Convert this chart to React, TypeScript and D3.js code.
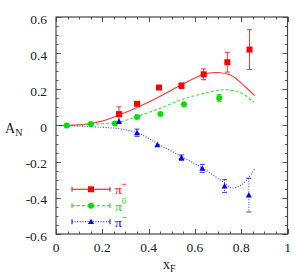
import React from "react";
import * as d3 from "d3";

const xTicks = [0, 0.2, 0.4, 0.6, 0.8, 1];
const yTicks = [-0.6, -0.4, -0.2, 0, 0.2, 0.4, 0.6];

const redX = [0.272, 0.35, 0.445, 0.542, 0.638, 0.74, 0.836];
const redY = [0.063, 0.12, 0.21, 0.22, 0.283, 0.35, 0.42];
const redErr = [0.04, 0.012, 0.012, 0.015, 0.03, 0.055, 0.11];

const greenX = [0.046, 0.151, 0.254, 0.35, 0.451, 0.553, 0.705];
const greenY = [0, 0.008, 0.011, 0.047, 0.063, 0.117, 0.152];
const greenErr = [0.005, 0.005, 0.008, 0.008, 0.008, 0.012, 0.02];

const blueX = [0.272, 0.35, 0.438, 0.542, 0.632, 0.728, 0.833];
const blueY = [0.022, -0.04, -0.107, -0.178, -0.237, -0.335, -0.385];
const blueErr = [0.01, 0.02, 0.01, 0.015, 0.022, 0.035, 0.093];

const redCurveX = [0, 0.1, 0.15, 0.2, 0.272, 0.35, 0.405, 0.45, 0.542, 0.638, 0.69, 0.757, 0.815, 0.858];
const redCurveY = [0, 0.004, 0.012, 0.025, 0.058, 0.1, 0.133, 0.162, 0.225, 0.283, 0.293, 0.276, 0.217, 0.165];
const greenCurveX = [0, 0.1, 0.2, 0.27, 0.35, 0.45, 0.542, 0.64, 0.728, 0.8, 0.855];
const greenCurveY = [0, 0.002, 0.01, 0.018, 0.05, 0.095, 0.143, 0.178, 0.198, 0.18, 0.128];
const blueCurveX = [0, 0.1, 0.2, 0.272, 0.35, 0.405, 0.438, 0.542, 0.632, 0.728, 0.757, 0.8, 0.858];
const blueCurveY = [0, -0.003, -0.01, -0.018, -0.04, -0.075, -0.1, -0.172, -0.235, -0.318, -0.345, -0.33, -0.242];

const seriesNames = ["+", "0", "−"];

const L = 56, R = 287.5, T = 17, B = 234;
const FONT = "Liberation Serif, Times New Roman, serif";

export default function App() {
  const x = d3.scaleLinear().domain([0, 1]).range([L, R]);
  const y = d3.scaleLinear().domain([-0.6, 0.6]).range([B, T]);
  const line = d3
    .line<[number, number]>()
    .x((d) => x(d[0]))
    .y((d) => y(d[1]))
    .curve(d3.curveCatmullRom.alpha(0.5));
  const zip = (a: number[], b: number[]) => a.map((v, i) => [v, b[i]] as [number, number]);

  const minorX = d3.range(0, 1.0001, 0.05);
  const minorY = d3.range(-0.6, 0.6001, 0.05);

  const series = [
    { color: "#ff0000", xs: redX, ys: redY, es: redErr, cx: redCurveX, cy: redCurveY, dash: undefined as string | undefined, marker: "square" },
    { color: "#00e000", xs: greenX, ys: greenY, es: greenErr, cx: greenCurveX, cy: greenCurveY, dash: "3,2", marker: "circle" },
    { color: "#0000ff", xs: blueX, ys: blueY, es: blueErr, cx: blueCurveX, cy: blueCurveY, dash: "1,1.6", marker: "triangle" },
  ];

  const marker = (m: string, cx: number, cy: number, color: string, key?: any) => {
    if (m === "square") return <rect key={key} x={cx - 3} y={cy - 3} width={6} height={6} fill={color} />;
    if (m === "circle") return <circle key={key} cx={cx} cy={cy} r={3} fill={color} />;
    return <path key={key} d={`M${cx},${cy - 3.2}L${cx + 3},${cy + 2.4}L${cx - 3},${cy + 2.4}Z`} fill={color} />;
  };

  const legendY = [189.3, 205.7, 221.7];
  const textStyle = { fontFamily: FONT };

  return (
    <svg width={295} height={275} style={{ display: "block", position: "absolute", left: 0, top: 0 }}>
      <rect width={295} height={275} fill="#fff" />
      {/* ticks */}
      <g stroke="#555" strokeWidth={1}>
        {minorX.map((v, i) => {
          const major = Math.abs(Math.round(v / 0.2) * 0.2 - v) < 1e-6;
          const len = major ? 5 : 2.5;
          const px = Math.round(x(v)) + 0.5;
          return (
            <g key={"tx" + i}>
              <line x1={px} x2={px} y1={B} y2={B - len} />
              <line x1={px} x2={px} y1={T} y2={T + len} />
            </g>
          );
        })}
        {minorY.map((v, i) => {
          const major = Math.abs(Math.round(v / 0.2) * 0.2 - v) < 1e-6;
          const len = major ? 5 : 2.5;
          const py = Math.round(y(v)) + 0.5;
          return (
            <g key={"ty" + i}>
              <line x1={L} x2={L + len} y1={py} y2={py} />
              <line x1={R} x2={R - len} y1={py} y2={py} />
            </g>
          );
        })}
      </g>
      <rect x={L} y={T} width={R - L} height={B - T} fill="none" stroke="#444" strokeWidth={1.2} />
      {/* tick labels */}
      <g style={textStyle} fontSize={13.5} fill="#222">
        {xTicks.map((v) => (
          <text key={"xl" + v} x={x(v)} y={252} textAnchor="middle" style={textStyle}>
            {d3.format("")(v)}
          </text>
        ))}
        {yTicks.map((v) => (
          <text key={"yl" + v} x={47} y={y(v) + 6.5} textAnchor="end" style={textStyle}>
            {v === 0 ? "0" : d3.format(".1f")(v).replace("−", "-")}
          </text>
        ))}
        <text x={5} y={132.5} fontSize={14} style={textStyle}>
          A<tspan fontSize={10} dy={3}>N</tspan>
        </text>
        <text x={163} y={269} fontSize={14} style={textStyle}>
          x<tspan fontSize={10} dy={2.5}>F</tspan>
        </text>
      </g>
      {/* curves */}
      {series.map((s, i) => (
        <path
          key={"c" + i}
          d={line(zip(s.cx, s.cy)) || ""}
          fill="none"
          stroke={s.color}
          strokeOpacity={0.8}
          strokeWidth={1.1}
          strokeDasharray={s.dash}
        />
      ))}
      {/* data points */}
      {series.map((s, i) => (
        <g key={"p" + i}>
          {s.xs.map((xv, j) => {
            const px = x(xv);
            const y1 = y(s.ys[j] + s.es[j]);
            const y2 = y(s.ys[j] - s.es[j]);
            return (
              <g key={j}>
                <g stroke={s.color} strokeOpacity={0.8} strokeWidth={1} strokeDasharray={s.dash}>
                  <line x1={px} x2={px} y1={y1} y2={y2} />
                </g>
                <g stroke={s.color} strokeOpacity={0.8} strokeWidth={1}>
                  {y2 - y1 > 5 && <line x1={px - 2.5} x2={px + 2.5} y1={y1} y2={y1} />}
                  {y2 - y1 > 5 && <line x1={px - 2.5} x2={px + 2.5} y1={y2} y2={y2} />}
                </g>
                {marker(s.marker, px, y(s.ys[j]), s.color)}
              </g>
            );
          })}
        </g>
      ))}
      {/* legend */}
      {series.map((s, i) => (
        <g key={"lg" + i}>
          <line x1={72} x2={110} y1={legendY[i]} y2={legendY[i]} stroke={s.color} strokeWidth={1.1} strokeDasharray={s.dash} />
          <line x1={72} x2={72} y1={legendY[i] - 2.5} y2={legendY[i] + 2.5} stroke={s.color} />
          <line x1={110} x2={110} y1={legendY[i] - 2.5} y2={legendY[i] + 2.5} stroke={s.color} />
          {marker(s.marker, 91, legendY[i], s.color)}
          <text x={115} y={legendY[i] + 5} style={textStyle} fontSize={13.5} fill={s.color}>
            π<tspan fontSize={9} dy={-7}>{seriesNames[i]}</tspan>
          </text>
        </g>
      ))}
    </svg>
  );
}
